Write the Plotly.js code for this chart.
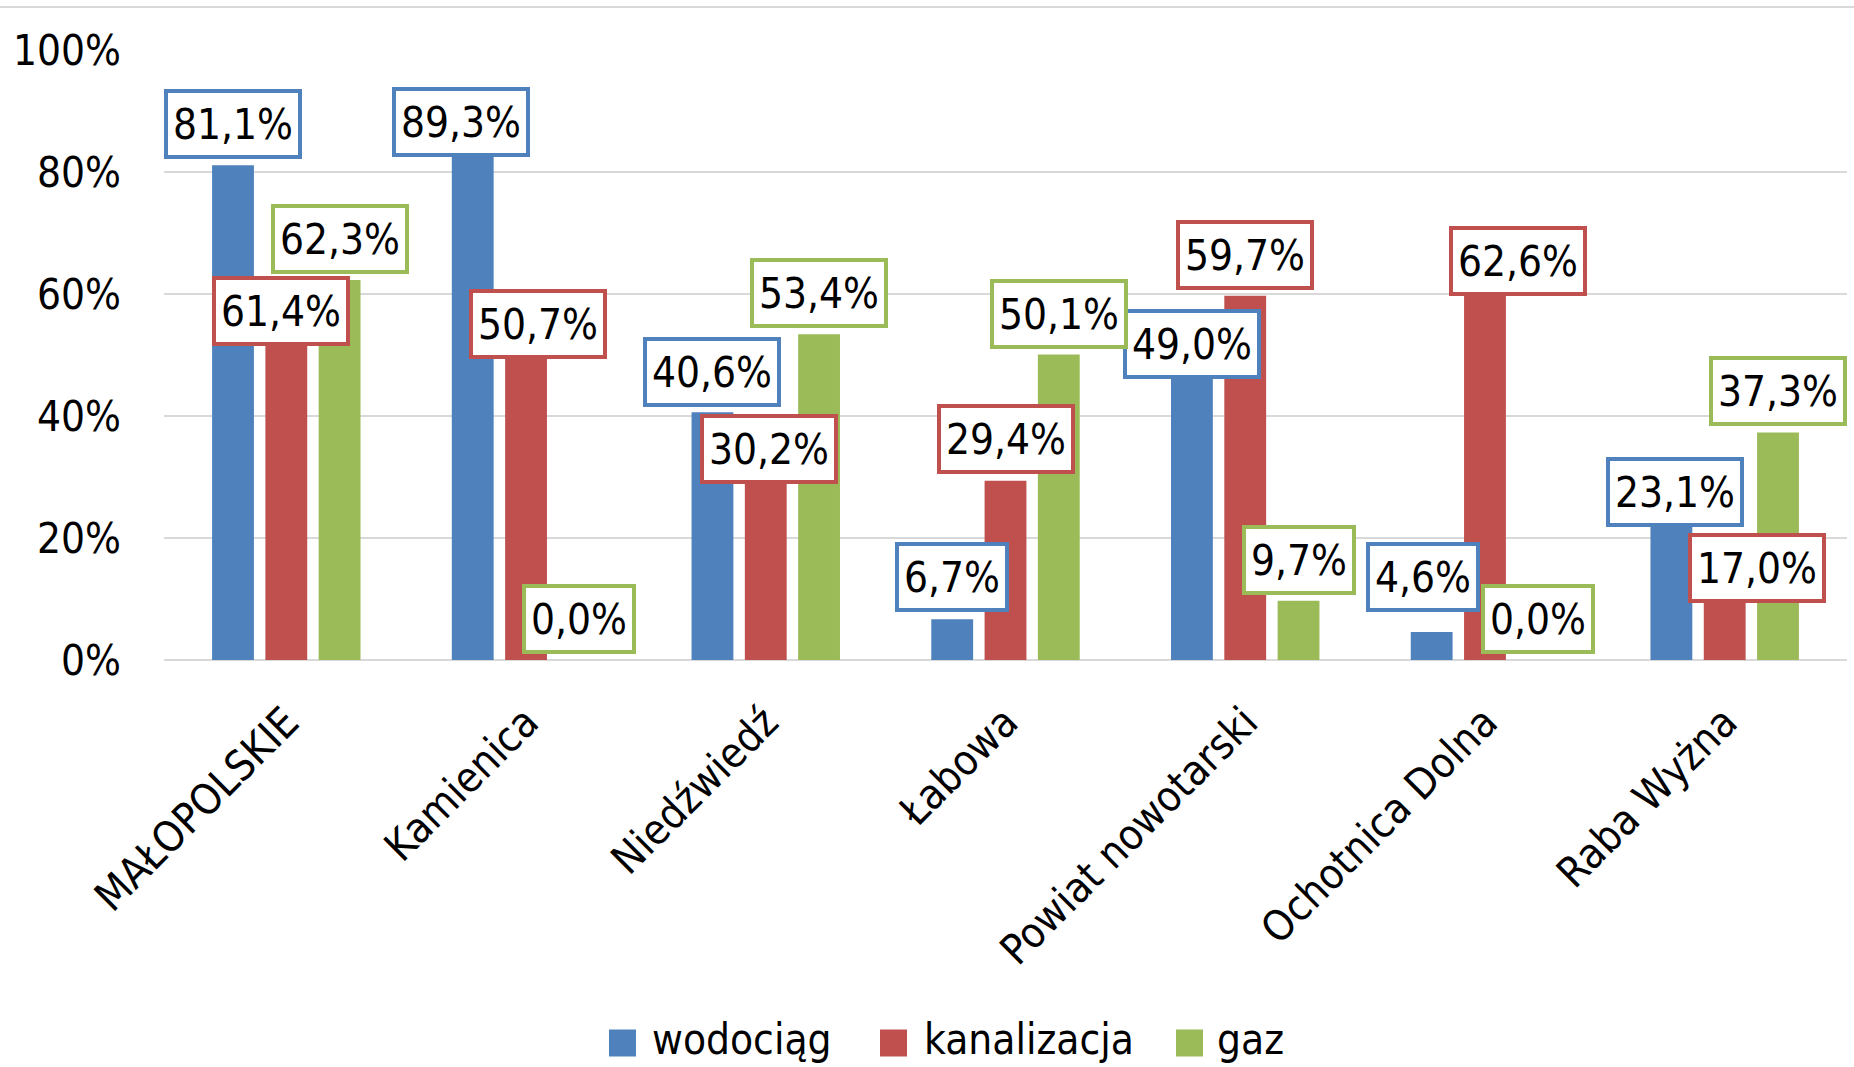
<!DOCTYPE html>
<html><head><meta charset="utf-8">
<script src="https://cdn.plot.ly/plotly-3.0.1.min.js"></script>
<style>html,body{margin:0;padding:0;background:#fff}#chart{width:1854px;height:1067px}</style>
</head><body><div id="chart"></div>
<script>
// ---- data ----
const categories = ['MAŁOPOLSKIE','Kamienica','Niedźwiedź','Łabowa','Powiat nowotarski','Ochotnica Dolna','Raba Wyżna'];
const seriesNames = ['wodociąg','kanalizacja','gaz'];
const wodociag    = [81.1, 89.3, 40.6, 6.7, 49.0, 4.6, 23.1];
const kanalizacja = [61.4, 50.7, 30.2, 29.4, 59.7, 62.6, 17.0];
const gaz         = [62.3, 0.0, 53.4, 50.1, 9.7, 0.0, 37.3];
const yTickVals   = [0, 20, 40, 60, 80, 100];

// ---- styling / placement (not data) ----
const colors = ['#4F81BD', '#C0504D', '#9BBB59'];
const FONT = "'Liberation Sans Narrow', 'Arial Narrow', 'DejaVu Sans Condensed', sans-serif";
const FS = 42;
const BARGAP = 0.333, BARGROUPGAP = 0.215;
// label box centre: [y in axis %, x shift in px] per series, per category
const labelPlace = [
  [[87.9,0],[88.2,-12],[47.2,0],[13.6,0],[51.8,0],[13.6,-9],[27.5,4]],
  [[57.2,-5],[55.1,12],[34.6,3],[36.2,0],[66.4,0],[65.4,33],[15.1,32]],
  [[69.0,0],[6.7,0],[60.2,0],[56.7,0],[16.4,0],[6.7,0],[44.1,0]]
];
// custom legend layout in px relative to plot-left / plot-bottom
const legendSwatchX = [445, 716, 1012];
const legendTextX   = [486, 758, 1051];
const legendY = -383, SW = 27;

const values = [wodociag, kanalizacja, gaz];
const fmt = v => v.toFixed(1).replace('.', ',') + '%';

const traces = values.map((vals, s) => ({
  type: 'bar', name: seriesNames[s], x: categories, y: vals,
  marker: {color: colors[s]}, hoverinfo: 'x+y', showlegend: false
}));

const annotations = [];
const shapes = [];
values.forEach((vals, s) => {
  vals.forEach((v, i) => {
    const txt = fmt(v);
    annotations.push({
      xref: 'x', yref: 'y',
      x: i + (s - 1) * (1 - BARGAP) / 3,
      y: labelPlace[s][i][0], xshift: labelPlace[s][i][1],
      text: txt, showarrow: false, xanchor: 'center', yanchor: 'middle',
      font: {family: FONT, size: FS, color: '#000'},
      bgcolor: '#fff', bordercolor: colors[s], borderwidth: 4, borderpad: 0,
      width: txt.length >= 5 ? 130 : 106, height: 62
    });
  });
  // legend entry
  shapes.push({
    type: 'rect', xref: 'paper', yref: 'paper', xsizemode: 'pixel', ysizemode: 'pixel',
    xanchor: 0, yanchor: 0,
    x0: legendSwatchX[s], x1: legendSwatchX[s] + SW, y0: legendY - SW/2, y1: legendY + SW/2,
    fillcolor: colors[s], line: {width: 0}
  });
  annotations.push({
    xref: 'paper', yref: 'paper', x: 0, y: 0, xshift: legendTextX[s], yshift: legendY + 4,
    xanchor: 'left', yanchor: 'middle', showarrow: false, text: seriesNames[s],
    font: {family: FONT, size: FS, color: '#000'}, height: 50
  });
});
// thin frame line at top of chart area
shapes.push({
  type: 'line', xref: 'paper', yref: 'paper', xsizemode: 'pixel', ysizemode: 'pixel',
  xanchor: 0, yanchor: 1, x0: -164, x1: 1700, y0: 43, y1: 43,
  line: {color: '#d9d9d9', width: 2}
});

const layout = {
  width: 1854, height: 1067,
  margin: {l: 164, r: 7, t: 50, b: 407},
  paper_bgcolor: '#fff', plot_bgcolor: '#fff',
  barmode: 'group', bargap: BARGAP, bargroupgap: BARGROUPGAP,
  showlegend: false,
  font: {family: FONT, size: FS, color: '#000'},
  xaxis: {
    type: 'category', tickangle: -45, showgrid: false, zeroline: false, showline: false,
    ticks: '', ticklabelstandoff: 28,
    tickfont: {family: FONT, size: FS, color: '#000'}
  },
  yaxis: {
    range: [0, 100], tickvals: yTickVals, ticktext: yTickVals.map(v => v + '%'),
    showgrid: true, gridcolor: '#d9d9d9', gridwidth: 2,
    zeroline: true, zerolinecolor: '#d9d9d9', zerolinewidth: 2,
    showline: false, ticks: '', ticklabelstandoff: 42,
    tickfont: {family: FONT, size: FS, color: '#000'}
  },
  annotations: annotations, shapes: shapes
};

Plotly.newPlot('chart', traces, layout, {staticPlot: true, displayModeBar: false});
</script>
</body></html>
